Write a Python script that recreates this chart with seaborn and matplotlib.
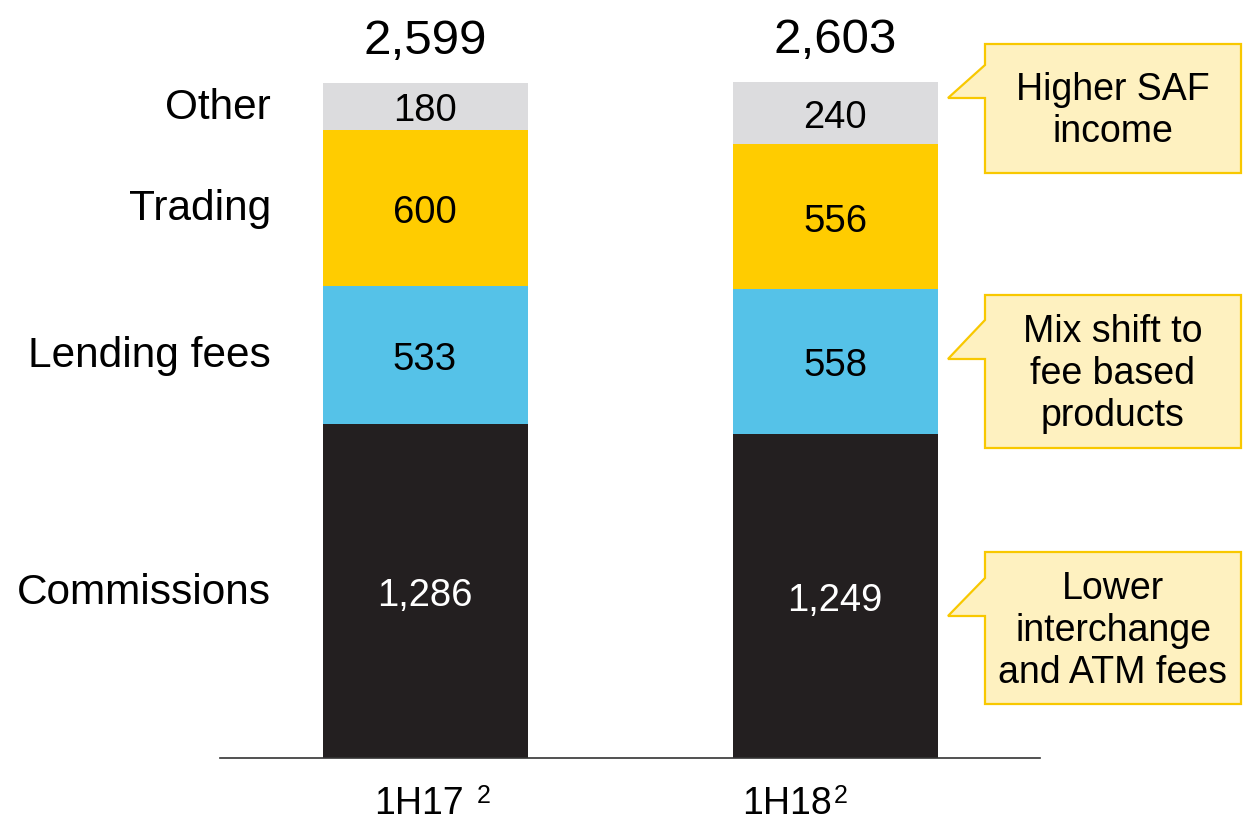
import matplotlib
matplotlib.use("Agg")
import matplotlib.pyplot as plt
import matplotlib.transforms as mtransforms
from matplotlib.patches import Polygon
import numpy as np
import pandas as pd
import seaborn as sns

# ---- data ----
periods = ["1H17", "1H18"]
footnotes = ["2", "2"]
segments = ["Commissions", "Lending fees", "Trading", "Other"]
commissions = [1286, 1249]
lending_fees = [533, 558]
trading = [600, 556]
other = [180, 240]
totals = [2599, 2603]
callouts = ["Higher SAF\nincome", "Mix shift to\nfee based\nproducts", "Lower\ninterchange\nand ATM fees"]

colors = {"Commissions": "#231F20", "Lending fees": "#55C2E8",
          "Trading": "#FFCC00", "Other": "#DCDCDE"}
label_colors = {"Commissions": "white", "Lending fees": "black",
                "Trading": "black", "Other": "black"}

sns.set_theme(style="white")
plt.rcParams["font.family"] = ["Liberation Sans", "DejaVu Sans"]

W, H = 1245, 826
fig = plt.figure(figsize=(W / 100, H / 100), dpi=100)
ax = fig.add_axes([220 / W, 68 / H, 820 / W, 758 / H])

def shift(dx_px, dy_px):
    return mtransforms.ScaledTranslation(dx_px / 100, dy_px / 100, fig.dpi_scale_trans)

values = [commissions, lending_fees, trading, other]
df = pd.DataFrame({"period": np.repeat(periods, len(segments)),
                   "segment": segments * len(periods)})
df["value"] = [values[j][i] for i in range(len(periods)) for j in range(len(segments))]
df["top"] = df.groupby("period")["value"].cumsum()
df["bottom"] = df["top"] - df["value"]

# draw cumulative bars from top layer down so they stack visually
for seg in segments[::-1]:
    sub = df[df["segment"] == seg]
    sns.barplot(data=sub, x="period", y="top", color=colors[seg], saturation=1,
                width=0.5, ax=ax, order=periods, linewidth=0)

ax.set_xlim(-0.5, 1.5)
ax.set_ylim(0, 2919)

# segment value labels
for _, r in df.iterrows():
    xi = periods.index(r["period"])
    ax.text(xi, (r["top"] + r["bottom"]) / 2, f"{int(r['value']):,}",
            ha="center", va="center", fontsize=27.5, color=label_colors[r["segment"]],
            transform=ax.transData + shift(0, -5))

# totals
for i, t in enumerate(totals):
    ax.text(i, t, f"{t:,}", ha="center", va="bottom", fontsize=35.5, color="black",
            transform=ax.transData + shift(0, 19))

# category labels at left of first bar
first = df[df["period"] == periods[0]]
for _, r in first.iterrows():
    ax.text(-0.376, (r["top"] + r["bottom"]) / 2, r["segment"], ha="right", va="center",
            fontsize=30.5, color="black", transform=ax.transData + shift(0, -1.5))

# axes styling
for s in ["top", "right", "left"]:
    ax.spines[s].set_visible(False)
ax.spines["bottom"].set_color("#333333")
ax.spines["bottom"].set_linewidth(1.2)
ax.set_yticks([])
ax.set_xlabel("")
ax.set_ylabel("")
ax.set_xticks(range(len(periods)))
ax.set_xticklabels(periods, fontsize=27, color="black")
ax.tick_params(axis="x", length=0, pad=20, colors="black")
shifts = [-6, -48]
for lab, dx in zip(ax.get_xticklabels(), shifts):
    lab.set_transform(lab.get_transform() + shift(dx, 0))

# footnote superscripts
sup_x = [484, 841]
for xs, fn in zip(sup_x, footnotes):
    fig.text(xs / W, 1 - 796 / H, fn, ha="center", va="center", fontsize=18, color="black")

# callouts (figure pixel coordinates, measured from top)
def fp(x, y):
    return (x / W, 1 - y / H)

boxes = [
    (44, 173, 65, 98, 111),
    (295, 448, 320, 359, 374),
    (552, 704, 578, 616, 631),
]
for (top, bot, p1, p2, ty), txt in zip(boxes, callouts):
    pts = [fp(985, top), fp(1241, top), fp(1241, bot), fp(985, bot),
           fp(985, p2), fp(948, p2), fp(985, p1)]
    fig.patches.append(Polygon(pts, closed=True, transform=fig.transFigure,
                               facecolor="#FEF1C0", edgecolor="#F8C800", linewidth=1.6))
    fig.text(1113 / W, 1 - ty / H, txt, ha="center", va="center", fontsize=27,
             linespacing=1.22, color="black")

fig.savefig("out.png", dpi=100)
